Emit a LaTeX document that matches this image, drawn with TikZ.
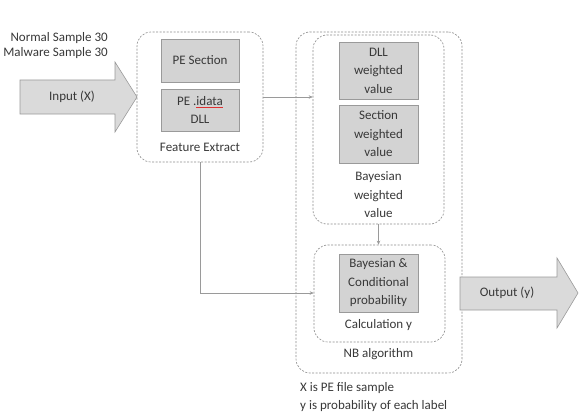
\documentclass[tikz,border=0pt]{standalone}
\usepackage{fontspec}
\setmainfont{Carlito}
\usepackage{xcolor}
\usetikzlibrary{arrows.meta}
\definecolor{txt}{HTML}{383838}
\definecolor{boxfill}{HTML}{D3D3D3}
\definecolor{boxline}{HTML}{9A9A9A}
\definecolor{arrfill}{HTML}{DADADA}
\definecolor{dashcol}{HTML}{8A8A8A}
\definecolor{spellred}{HTML}{E03030}
\newlength{\redw}
\newcommand{\redunder}[1]{\settowidth{\redw}{#1}\rlap{\color{spellred}\rule[-2.5pt]{\redw}{0.9pt}}#1}
\begin{document}
\begin{tikzpicture}[x=1pt,y=-1pt,
  every node/.style={text=txt,font=\fontsize{13}{18.5}\selectfont,align=center},
  grp/.style={draw=dashcol,dash pattern=on 2pt off 1.5pt,line width=0.6pt,rounded corners=14pt,inner sep=0pt},
  gbox/.style={draw=boxline,fill=boxfill,line width=0.7pt,inner sep=0pt},
  bigarrow/.style={draw=boxline,fill=arrfill,line width=0.6pt},
  conn/.style={draw=boxline,line width=0.8pt,-{Stealth[length=4pt,width=3.5pt]}},
  lbl/.style={inner sep=0pt}]
\useasboundingbox (0,0) rectangle (580,417);
% input arrow
\draw[bigarrow] (20,80)--(115,80)--(115,62)--(137,97)--(115,132)--(115,114)--(20,114)--cycle;
\node[lbl] (inlbl) at (72,97) {Input (X)};
\node[lbl,align=right,anchor=east,font=\fontsize{13}{15.5}\selectfont] (samples) at (108,45.5) {Normal Sample 30\\Malware Sample 30};
% feature extract
\node[grp,minimum width=126,minimum height=130] (fe) at (200,97) {};
\node[gbox,minimum width=78,minimum height=43] (pesec) at (200,60.5) {PE Section};
\node[gbox,minimum width=78,minimum height=42] (peid) at (200,110) {PE .\redunder{idata}\\DLL};
\node[lbl] (felbl) at (200,147) {Feature Extract};
% NB algorithm
\node[grp,minimum width=166,minimum height=341] (nb) at (379,202.5) {};
\node[grp,minimum width=131,minimum height=189] (bw) at (378.5,129.5) {};
\node[gbox,minimum width=79,minimum height=57] (dll) at (378.5,70.5) {DLL\\weighted\\value};
\node[gbox,minimum width=79,minimum height=58] (secw) at (378.5,134) {Section\\weighted\\value};
\node[lbl] (bwlbl) at (378.5,195) {Bayesian\\weighted\\value};
\node[grp,minimum width=131,minimum height=97] (calc) at (379.5,293.5) {};
\node[gbox,minimum width=79,minimum height=58] (bcp) at (378.5,283) {Bayesian \&\\Conditional\\probability};
\node[lbl] (calclbl) at (378.5,325) {Calculation y};
\node[lbl] (nblbl) at (378.5,354) {NB algorithm};
% output arrow
\draw[bigarrow] (460,277)--(557,277)--(557,258)--(578,293)--(557,328)--(557,310)--(460,310)--cycle;
\node[lbl] (outlbl) at (507,293) {Output (y)};
% note
\node[lbl,align=left,anchor=north west,font=\fontsize{13}{18}\selectfont] (note) at (300,382) {X is PE file sample\\y is probability of each label};
% connectors
\draw[conn] (fe.east |- 0,97) -- (bw.west |- 0,97);
\draw[conn] (fe.south) -- (200,293) -- (calc.west |- 0,293);
\draw[conn] (bw.south) -- (calc.north -| bw.south);
\end{tikzpicture}
\end{document}
